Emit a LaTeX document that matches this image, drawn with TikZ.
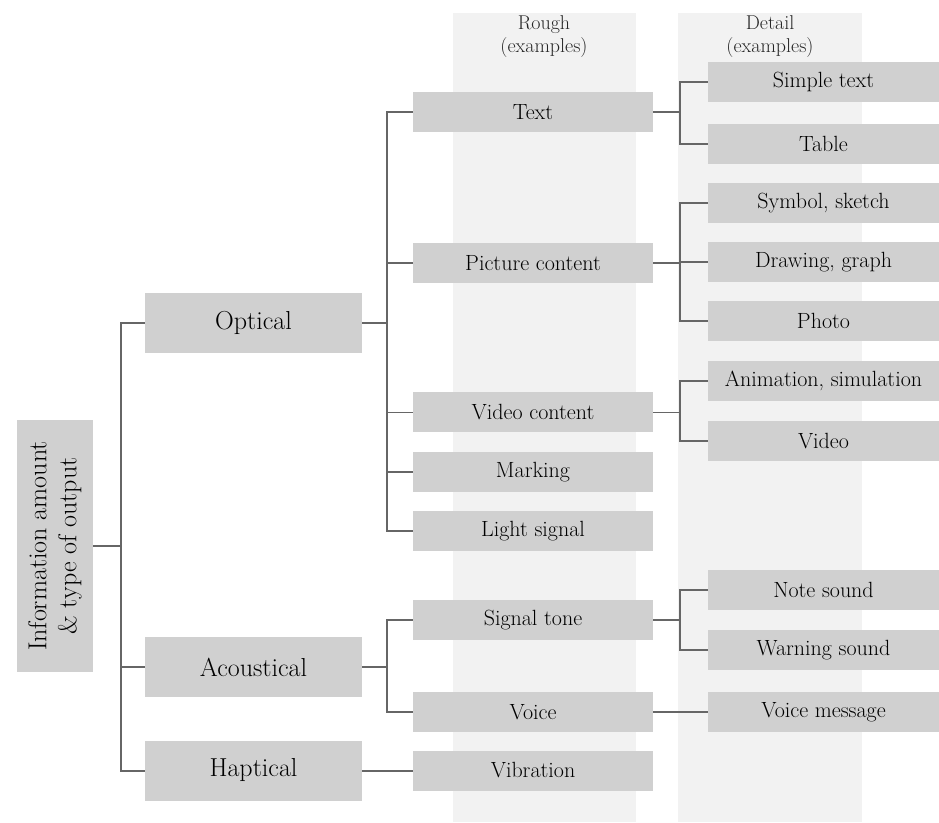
\documentclass[tikz,border=0pt]{standalone}
\usetikzlibrary{calc}
\definecolor{boxgray}{HTML}{D0D0D0}
\definecolor{colgray}{HTML}{F2F2F2}
\definecolor{linegray}{HTML}{666666}
\tikzset{
  box/.style={fill=boxgray, inner sep=0pt, anchor=center, text=black},
  lvlone/.style={box, minimum width=217pt, minimum height=60pt, font=\fontsize{26}{29}\selectfont},
  lvltwo/.style={box, minimum width=240pt, minimum height=40pt, font=\fontsize{22}{25}\selectfont},
  lvlthree/.style={box, minimum width=231pt, minimum height=40pt, font=\fontsize{22}{25}\selectfont},
  head/.style={align=center, inner sep=0pt, font=\fontsize{20}{23}\selectfont, text=black!85},
  conn/.style={draw=linegray, line width=2pt, line join=miter},
  thinconn/.style={draw=linegray, line width=1pt},
}
\begin{document}
\begin{tikzpicture}[x=1pt,y=-1pt]
\useasboundingbox (0,0) rectangle (939,822);
% columns
\fill[colgray] (453,13) rectangle (636,822);
\fill[colgray] (678,13) rectangle (862,822);
\node[head] (hrough) at (544,37) {Rough\\(examples)};
\node[head] (hdetail) at (770,37) {Detail\\(examples)};
% root
\node[box, minimum width=76pt, minimum height=252pt] (root) at (55,546) {};
\node[rotate=90, align=center, inner sep=0pt, font=\fontsize{26}{30}\selectfont, text=black] (roottext) at (root.center) {Information amount\\\& type of output};
% level 1
\node[lvlone] (opt) at (253.5,323) {Optical};
\node[lvlone] (acu) at (253.5,667) {Acoustical};
\node[lvlone] (hap) at (253.5,770.5) {Haptical};
% level 2
\node[lvltwo] (text) at (533,112) {Text};
\node[lvltwo] (pic) at (533,263) {Picture content};
\node[lvltwo] (vid) at (533,412) {Video content};
\node[lvltwo] (mark) at (533,472) {Marking};
\node[lvltwo] (light) at (533,531) {Light signal};
\node[lvltwo] (sig) at (533,620) {Signal tone};
\node[lvltwo] (voice) at (533,712) {Voice};
\node[lvltwo] (vib) at (533,770.5) {Vibration};
% level 3
\node[lvlthree] (simple) at (823.5,82) {Simple text};
\node[lvlthree] (table) at (823.5,144) {Table};
\node[lvlthree] (symbol) at (823.5,203) {Symbol, sketch};
\node[lvlthree] (drawing) at (823.5,262) {Drawing, graph};
\node[lvlthree] (photo) at (823.5,321) {Photo};
\node[lvlthree] (anim) at (823.5,381) {Animation, simulation};
\node[lvlthree] (video) at (823.5,441) {Video};
\node[lvlthree] (note) at (823.5,590) {Note sound};
\node[lvlthree] (warn) at (823.5,650) {Warning sound};
\node[lvlthree] (vmsg) at (823.5,712) {Voice message};
% junctions
\coordinate (j1) at (121,546);
\coordinate (j2) at (387,323);
\coordinate (j3) at (387,667);
\coordinate (j4) at (680,112);
\coordinate (j5) at (680,263);
\coordinate (j6) at (680,412);
\coordinate (j7) at (680,620);
% connectors
\draw[conn] (root.east) -- (j1);
\draw[conn] (j1) |- (opt.west);
\draw[conn] (j1) |- (acu.west);
\draw[conn] (j1) |- (hap.west);
\draw[conn] (opt.east) -- (j2);
\draw[conn] (j2) |- (text.west);
\draw[conn] (j2) |- (pic.west);
\draw[conn] (j2) |- (mark.west);
\draw[conn] (j2) |- (light.west);
\draw[thinconn] (j2 |- vid.west) -- (vid.west);
\draw[conn] (acu.east) -- (j3);
\draw[conn] (j3) |- (sig.west);
\draw[conn] (j3) |- (voice.west);
\draw[conn] (hap.east) -- (vib.west);
\draw[conn] (text.east) -- (j4);
\draw[conn] (j4) |- (simple.west);
\draw[conn] (j4) |- (table.west);
\draw[conn] (pic.east) -- (j5);
\draw[conn] (j5) |- (symbol.west);
\draw[conn] (j5) |- (drawing.west);
\draw[conn] (j5) |- (photo.west);
\draw[thinconn] (vid.east) -- (j6);
\draw[conn] (j6) |- (anim.west);
\draw[conn] (j6) |- (video.west);
\draw[conn] (sig.east) -- (j7);
\draw[conn] (j7) |- (note.west);
\draw[conn] (j7) |- (warn.west);
\draw[conn] (voice.east) -- (vmsg.west);
\end{tikzpicture}
\end{document}
